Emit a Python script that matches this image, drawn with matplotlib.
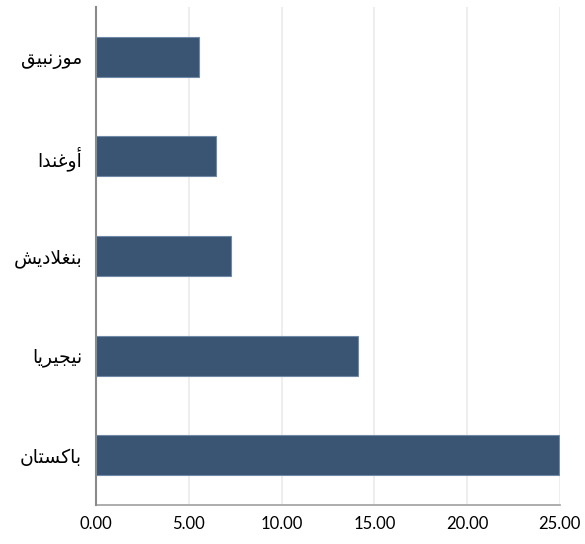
import matplotlib
matplotlib.use('Agg')
import matplotlib.pyplot as plt

### Data (top to bottom as drawn).
countries = ['موزنبيق', 'أوغندا', 'بنغلاديش', 'نيجيريا', 'باكستان']
values = [5.55, 6.47, 7.27, 14.12, 24.97]
xticks = [0, 5, 10, 15, 20, 25]

### Minimal Arabic shaping: matplotlib has no bidi/shaping, so pick
### presentation forms by hand and reverse for left-to-right drawing.
# letter: (isolated, final, initial, medial); None -> does not join forward
FORMS = {
    'ا': (0xFE8D, 0xFE8E, None, None),
    'أ': (0xFE83, 0xFE84, None, None),
    'ب': (0xFE8F, 0xFE90, 0xFE91, 0xFE92),
    'ت': (0xFE95, 0xFE96, 0xFE97, 0xFE98),
    'ج': (0xFE9D, 0xFE9E, 0xFE9F, 0xFEA0),
    'د': (0xFEA9, 0xFEAA, None, None),
    'ر': (0xFEAD, 0xFEAE, None, None),
    'ز': (0xFEAF, 0xFEB0, None, None),
    'س': (0xFEB1, 0xFEB2, 0xFEB3, 0xFEB4),
    'ش': (0xFEB5, 0xFEB6, 0xFEB7, 0xFEB8),
    'غ': (0xFECD, 0xFECE, 0xFECF, 0xFED0),
    'ق': (0xFED5, 0xFED6, 0xFED7, 0xFED8),
    'ك': (0xFED9, 0xFEDA, 0xFEDB, 0xFEDC),
    'ل': (0xFEDD, 0xFEDE, 0xFEDF, 0xFEE0),
    'م': (0xFEE1, 0xFEE2, 0xFEE3, 0xFEE4),
    'ن': (0xFEE5, 0xFEE6, 0xFEE7, 0xFEE8),
    'و': (0xFEED, 0xFEEE, None, None),
    'ي': (0xFEF1, 0xFEF2, 0xFEF3, 0xFEF4),
    'لا': (0xFEFB, 0xFEFC, None, None),
}

def shape(word):
    # merge lam-alef
    units = []
    i = 0
    while i < len(word):
        if word[i] == 'ل' and i + 1 < len(word) and word[i+1] == 'ا':
            units.append('لا')
            i += 2
        else:
            units.append(word[i])
            i += 1
    out = []
    for k, u in enumerate(units):
        f = FORMS[u]
        prev = k > 0 and FORMS[units[k-1]][2] is not None
        nxt = k + 1 < len(units) and f[2] is not None
        if prev and nxt:
            c = f[3]
        elif prev:
            c = f[1]
        elif nxt:
            c = f[2]
        else:
            c = f[0]
        out.append(chr(c))
    return ''.join(reversed(out))

### Plot.
fig = plt.figure(figsize=(5.85, 5.44), dpi=100)
ax = fig.add_axes([0.164, 0.0717, 0.793, 0.9155])
ypos = list(range(len(countries)))
ax.barh(ypos, values, height=0.4, color='#3a5573', edgecolor='#7089a6', linewidth=0.8, zorder=3)
ax.set_ylim(4.5, -0.5)
ax.set_xlim(0, 25)
ax.set_xticks(xticks)
ax.set_xticklabels(['%.2f' % t for t in xticks], fontsize=12, family=['Lato', 'DejaVu Sans'])
ax.set_yticks(ypos)
ax.set_yticklabels([shape(c) for c in countries], fontsize=13.5, family='DejaVu Sans')
ax.tick_params(axis='x', length=0, pad=8, colors='#000000')
ax.tick_params(axis='y', length=0, pad=10)
ax.grid(axis='x', color='#ebebeb', lw=1.2, zorder=0)
for s in ['top', 'right']:
    ax.spines[s].set_visible(False)
ax.spines['left'].set_color('#8a8a8a')
ax.spines['left'].set_linewidth(1.5)
ax.spines['bottom'].set_color('#a0a0a0')
ax.spines['bottom'].set_linewidth(1.2)
ax.spines['left'].set_zorder(4)

fig.savefig('out.png', dpi=100)
